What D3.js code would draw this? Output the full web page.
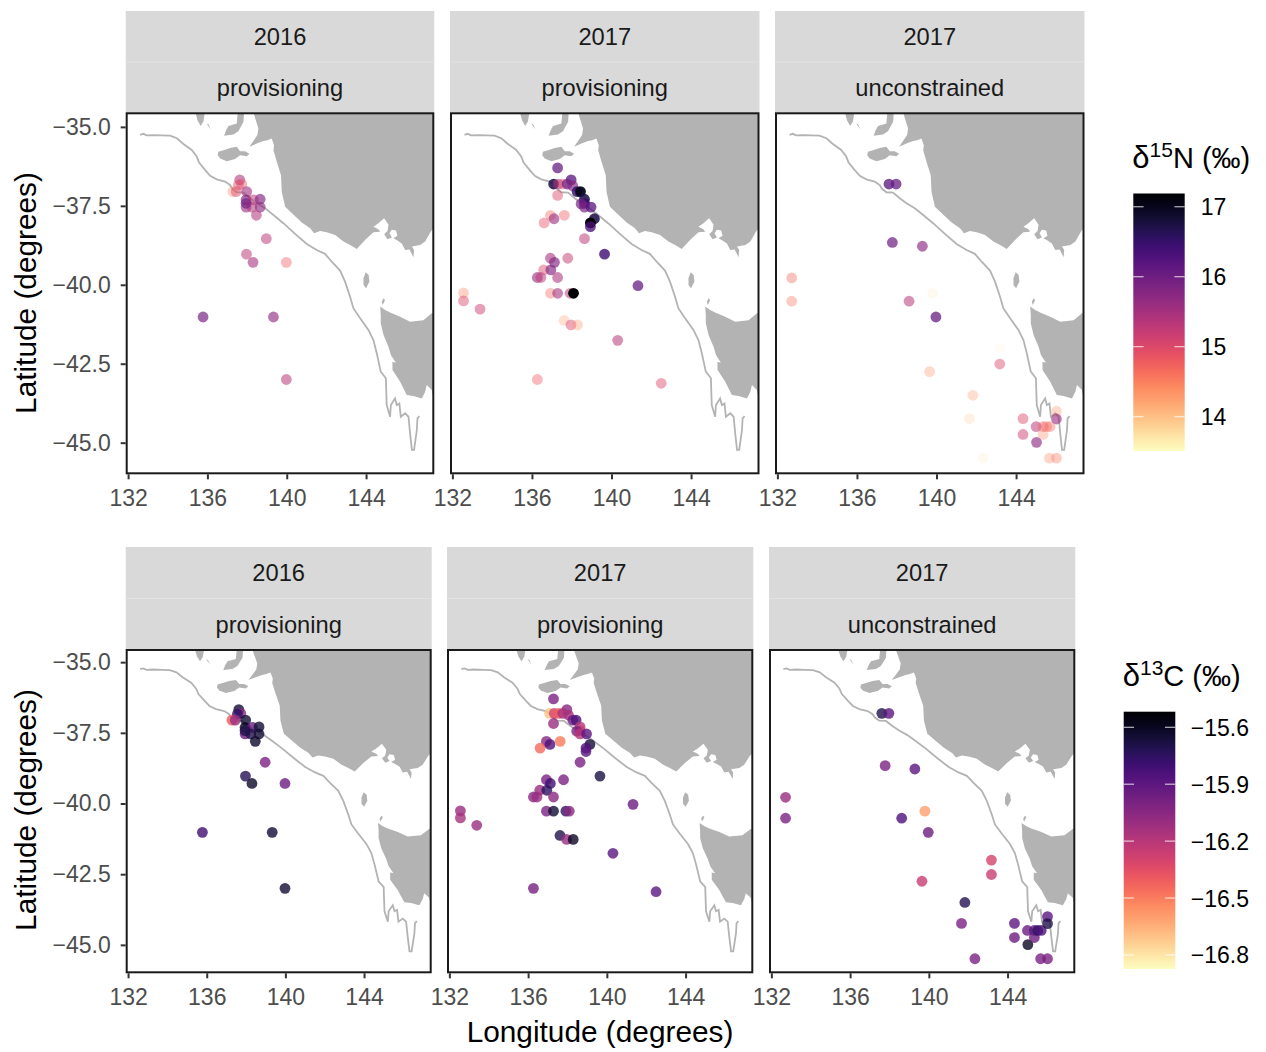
<!DOCTYPE html>
<html>
<head>
<meta charset="utf-8">
<title>Isotope values by foraging location</title>
<script src="https://d3js.org/d3.v7.min.js"></script>
<style>
body { margin: 0; background: #fff; }
svg { display: block; font-family: "Liberation Sans", Arial, sans-serif; }
.axis path { display: none; }
.axis line { stroke: #333; stroke-width: 2px; }
.axis text { fill: #4d4d4d; font-size: 23px; font-family: "Liberation Sans", Arial, sans-serif; }
.strip { fill: #d9d9d9; }
.striptext { font-size: 23.7px; fill: #1a1a1a; text-anchor: middle; }
.title { font-size: 29.8px; fill: #000; }
.legtick { font-size: 23px; fill: #000; }
</style>
</head>
<body>
<div id="chart"></div>
<script>
// facets
const years = ["2016", "2017", "2017"];
const stages = ["provisioning", "provisioning", "unconstrained"];
const xTicks = [132, 136, 140, 144];
const yTicks = [-35, -37.5, -40, -42.5, -45];
const n15Ticks = [14, 15, 16, 17];
const c13Ticks = [-16.8, -16.5, -16.2, -15.9, -15.6];

// 2016 provisioning
const lon16 = [135.78, 139.33, 139.98, 139.98, 138.30, 137.97, 138.97, 137.63, 137.73, 137.56, 137.28, 137.45, 137.98, 137.95, 138.32, 138.66, 137.95, 138.24, 138.66, 137.95, 138.47];
const lat16 = [-41.02, -41.02, -43.0, -39.29, -39.29, -39.03, -38.54, -36.68, -36.81, -36.84, -37.05, -37.05, -37.05, -37.31, -37.31, -37.29, -37.54, -37.54, -37.54, -37.42, -37.80];
const n15_16 = [15.9, 15.7, 15.35, 14.8, 15.5, 15.3, 15.3, 15.45, 14.9, 15.0, 14.5, 15.0, 15.55, 15.8, 15.3, 15.8, 15.6, 15.4, 15.7, 15.9, 15.4];
const c13_16 = [-15.8, -15.65, -15.65, -15.95, -15.62, -15.72, -16.0, -15.65, -16.05, -15.75, -16.4, -16.1, -15.65, -15.6, -15.95, -15.65, -15.95, -15.7, -15.65, -15.7, -15.62];

// 2017 provisioning
const lon17p = [137.29, 137.97, 137.09, 137.33, 137.55, 137.77, 138.05, 138.27, 138.44, 138.64, 138.64, 138.47, 138.64, 138.97, 139.14, 138.94, 138.94, 138.64, 139.65, 137.29, 136.93, 137.63, 136.61, 137.11, 136.93, 137.13, 137.80, 136.59, 136.95, 136.27, 136.45, 137.29, 136.93, 137.29, 137.92, 138.09, 141.33, 132.56, 132.56, 133.39, 137.62, 137.96, 138.29, 140.31, 136.27, 142.5];
const lat17p = [-36.30, -36.68, -36.81, -36.81, -36.81, -36.81, -36.87, -37.05, -37.05, -37.29, -37.42, -37.44, -37.54, -37.54, -37.91, -38.04, -38.16, -38.54, -39.03, -37.17, -37.80, -37.80, -38.04, -37.91, -39.16, -39.29, -39.16, -39.53, -39.53, -39.77, -39.77, -39.77, -40.27, -40.27, -40.27, -40.27, -40.03, -40.26, -40.51, -40.77, -41.13, -41.27, -41.27, -41.76, -43.0, -43.12];
const n15_17p = [16.1, 16.2, 16.7, 15.4, 15.0, 16.0, 15.8, 16.5, 17.0, 16.7, 16.5, 15.9, 15.9, 16.2, 16.7, 17.2, 16.3, 15.3, 16.4, 15.0, 14.7, 14.8, 14.9, 15.6, 15.5, 15.8, 15.2, 15.0, 15.8, 15.6, 15.3, 15.45, 14.7, 15.5, 15.3, 17.3, 16.1, 14.5, 15.0, 15.15, 14.3, 15.0, 14.4, 15.35, 14.8, 15.0];
const c13_17p = [-16.0, -16.05, -16.7, -16.3, -16.4, -16.15, -16.15, -15.95, -15.85, -16.2, -16.25, -16.0, -16.2, -15.9, -15.65, -15.85, -15.9, -16.0, -15.68, -16.1, -16.05, -16.5, -16.45, -15.85, -16.0, -15.8, -16.0, -16.1, -15.75, -16.05, -16.1, -16.05, -16.0, -15.65, -15.75, -16.05, -15.95, -16.1, -16.15, -16.1, -15.7, -16.1, -15.6, -15.9, -15.98, -15.9];

// 2017 unconstrained
const lon17u = [137.61, 137.97, 137.78, 139.29, 132.72, 132.72, 138.62, 139.80, 139.97, 143.18, 143.18, 139.65, 141.83, 141.66, 144.35, 144.35, 145.01, 145.03, 145.36, 145.36, 145.53, 145.71, 146.03, 146.03, 142.34, 145.68, 146.03];
const lat17u = [-36.81, -36.81, -38.66, -38.78, -39.78, -40.52, -40.52, -40.27, -41.02, -42.0, -42.51, -42.75, -43.50, -44.24, -44.24, -44.74, -44.49, -44.99, -44.49, -44.74, -44.49, -44.49, -44.0, -44.25, -45.49, -45.49, -45.49];
const n15_17u = [16.2, 16.1, 16.0, 15.75, 14.7, 14.6, 15.35, 13.75, 16.1, 13.6, 15.0, 14.4, 14.35, 14.0, 15.0, 15.15, 15.3, 15.7, 14.8, 14.45, 14.7, 14.7, 14.4, 15.6, 13.75, 14.45, 14.6];
const c13_17u = [-15.7, -15.9, -16.0, -15.9, -16.1, -16.0, -15.85, -16.6, -15.95, -16.3, -16.25, -16.25, -15.72, -16.0, -15.9, -15.95, -15.95, -15.6, -15.9, -15.95, -15.75, -15.85, -15.9, -15.7, -16.0, -16.0, -16.0];

// map outlines as [lon, lat]
const mainland = [[138.35,-34.3],[138.35,-34.61],[138.57,-35.05],[138.52,-35.26],[138.12,-35.63],[138.49,-35.53],[138.82,-35.45],[139.03,-35.42],[139.24,-35.37],[139.36,-35.58],[139.33,-35.74],[139.50,-36.11],[139.71,-36.53],[139.75,-37.06],[139.92,-37.53],[140.25,-37.73],[140.76,-38.03],[141.18,-38.21],[141.38,-38.37],[141.68,-38.30],[142.02,-38.34],[142.44,-38.42],[142.86,-38.63],[143.20,-38.74],[143.53,-38.87],[143.95,-38.58],[144.37,-38.34],[144.71,-38.32],[144.62,-38.24],[144.37,-38.16],[144.62,-38.05],[144.91,-37.89],[145.13,-38.10],[145.08,-38.30],[144.91,-38.40],[145.08,-38.56],[145.30,-38.50],[145.18,-38.37],[145.30,-38.26],[145.51,-38.28],[145.58,-38.45],[145.38,-38.53],[145.58,-38.60],[145.80,-38.69],[145.97,-38.90],[146.19,-38.88],[146.39,-39.13],[146.42,-38.90],[146.31,-38.79],[146.73,-38.74],[146.98,-38.63],[147.26,-38.32],[147.40,-38.21],[147.8,-38.0],[147.8,-34.3]];
const yorke = [[137.56,-34.3],[137.48,-34.89],[137.06,-34.97],[136.94,-35.11],[136.84,-35.28],[137.31,-35.24],[137.56,-35.14],[137.82,-34.84],[137.87,-34.3]];
const eyre = [[135.29,-34.3],[135.50,-34.79],[135.66,-34.97],[135.80,-34.82],[135.93,-34.3]];
const eyreSpeck = [[135.97,-34.90],[136.17,-35.08],[136.06,-34.92]];
const kangaroo = [[136.55,-35.79],[136.81,-35.74],[137.14,-35.67],[137.48,-35.63],[137.65,-35.77],[137.90,-35.77],[138.12,-35.85],[137.98,-35.93],[137.65,-35.90],[137.40,-36.02],[136.98,-36.09],[136.64,-36.00],[136.52,-35.90]];
const kingIsland = [[143.98,-39.60],[144.13,-39.69],[144.17,-39.90],[144.00,-40.11],[143.87,-40.01],[143.87,-39.79]];
const hunterIsland = [[144.88,-40.43],[144.79,-40.54],[144.84,-40.64],[144.96,-40.48]];
const tasmania = [[144.71,-40.69],[144.74,-40.96],[144.74,-41.22],[144.88,-41.59],[145.13,-41.96],[145.25,-42.22],[145.50,-42.47],[145.33,-42.44],[145.33,-42.70],[145.72,-43.07],[145.88,-43.28],[146.05,-43.49],[146.39,-43.52],[146.81,-43.60],[146.98,-43.39],[147.06,-43.17],[147.31,-43.33],[147.36,-43.49],[147.73,-43.49],[147.73,-40.85],[147.31,-40.90],[146.89,-41.12],[146.22,-41.17],[145.72,-41.01],[145.21,-40.88],[144.96,-40.80]];
const shelf = [[132.61,-35.25],[132.77,-35.22],[132.94,-35.27],[133.28,-35.26],[133.70,-35.27],[134.12,-35.28],[134.46,-35.36],[134.79,-35.54],[135.21,-35.73],[135.46,-35.94],[135.58,-36.13],[135.88,-36.36],[136.14,-36.55],[136.47,-36.66],[136.89,-36.73],[137.14,-36.84],[137.26,-36.96],[137.48,-37.07],[137.82,-37.08],[138.15,-37.26],[138.49,-37.42],[138.91,-37.58],[139.33,-37.79],[139.83,-38.05],[140.42,-38.39],[141.01,-38.71],[141.51,-38.90],[141.93,-39.02],[142.27,-39.27],[142.69,-39.55],[142.94,-39.90],[143.19,-40.37],[143.36,-40.74],[143.70,-41.06],[144.12,-41.43],[144.37,-41.75],[144.54,-42.17],[144.74,-42.75],[145.0,-42.96],[145.01,-43.23],[145.04,-43.81],[145.21,-44.18],[145.25,-43.81],[145.46,-43.60],[145.55,-43.81],[145.68,-43.76],[145.75,-44.18],[145.97,-44.07],[146.14,-44.18],[146.22,-44.71],[146.31,-45.23],[146.42,-45.23],[146.56,-44.60],[146.59,-44.23],[146.69,-44.16]];

const width = 1266, height = 1052;
const lonDomain = [131.93, 147.39];
const latDomain = [-34.57, -45.97];
const landGrey = "#b3b3b3";

const panelData = [
    { lon: lon16, lat: lat16, n15: n15_16, c13: c13_16 },
    { lon: lon17p, lat: lat17p, n15: n15_17p, c13: c13_17p },
    { lon: lon17u, lat: lat17u, n15: n15_17u, c13: c13_17u }
];

const svg = d3.select("#chart").append("svg")
    .attr("width", width)
    .attr("height", height);

const defs = svg.append("defs");

function magmaRev(domain) {
    const t = d3.scaleLinear().domain(domain).range([1, 0]);
    return v => d3.interpolateMagma(Math.max(0, Math.min(1, t(v))));
}

function drawRow(row) {
    const color = magmaRev(row.domain);
    row.panels.forEach(function(p, i) {
        const x = d3.scaleLinear().domain(lonDomain).range([p[0], p[1]]);
        const y = d3.scaleLinear().domain(latDomain).range([row.top, row.bottom]);

        // strips
        [0, 1].forEach(function(k) {
            const y0 = row.stripTop + k * row.stripH;
            svg.append("rect").attr("class", "strip")
                .attr("x", p[0] - 1).attr("y", y0)
                .attr("width", p[1] - p[0] + 2).attr("height", row.stripH);
            svg.append("text").attr("class", "striptext")
                .attr("x", (p[0] + p[1]) / 2)
                .attr("y", y0 + row.stripH / 2 + 8.5)
                .text(k == 0 ? years[i] : stages[i]);
        });
        svg.append("line")
            .attr("x1", p[0] - 1).attr("x2", p[1] + 1)
            .attr("y1", row.stripTop + row.stripH).attr("y2", row.stripTop + row.stripH)
            .attr("stroke", "#e2e2e2").attr("stroke-width", 1);

        const clipId = "clip" + row.key + i;
        defs.append("clipPath").attr("id", clipId)
            .append("rect")
            .attr("x", p[0]).attr("y", row.top)
            .attr("width", p[1] - p[0]).attr("height", row.bottom - row.top);

        const g = svg.append("g").attr("clip-path", "url(#" + clipId + ")");

        const line = d3.line().x(d => x(d[0])).y(d => y(d[1]));

        [mainland, yorke, eyre, eyreSpeck, kangaroo, kingIsland, hunterIsland, tasmania].forEach(function(land) {
            g.append("path")
                .attr("d", line(land) + "Z")
                .attr("fill", landGrey);
        });
        g.append("path")
            .attr("d", line(shelf))
            .attr("fill", "none")
            .attr("stroke", landGrey)
            .attr("stroke-width", 1.8);

        const d = panelData[i];
        g.selectAll("circle")
            .data(d.lon)
            .enter().append("circle")
            .attr("cx", (v) => x(v))
            .attr("cy", (v, j) => y(d.lat[j]))
            .attr("r", 5.4)
            .attr("fill", (v, j) => color(d[row.key][j]))
            .attr("fill-opacity", (v, j) => row.alpha(d[row.key][j]));

        // panel border
        svg.append("rect")
            .attr("x", p[0]).attr("y", row.top)
            .attr("width", p[1] - p[0]).attr("height", row.bottom - row.top)
            .attr("fill", "none")
            .attr("stroke", "#1a1a1a")
            .attr("stroke-width", 2);

        svg.append("g").attr("class", "axis")
            .attr("transform", "translate(0," + (row.bottom + 1) + ")")
            .call(d3.axisBottom(x).tickValues(xTicks).tickSize(5).tickPadding(10).tickFormat(d3.format("d")));

        if (i == 0) {
            svg.append("g").attr("class", "axis")
                .attr("transform", "translate(" + (p[0] - 1) + ",0)")
                .call(d3.axisLeft(y).tickValues(yTicks).tickSize(5).tickPadding(10)
                    .tickFormat(v => d3.format(".1f")(v).replace("-", "\u2212")));
        }
    });

    // y title
    svg.append("text").attr("class", "title")
        .attr("text-anchor", "middle")
        .attr("transform", "translate(" + 36 + "," + row.yTitleY + ") rotate(-90)")
        .text("Latitude (degrees)");

    // colour bar
    const barScale = d3.scaleLinear().domain(row.domain).range([row.barBottom, row.barTop]);
    const gradId = "grad" + row.key;
    const grad = defs.append("linearGradient").attr("id", gradId)
        .attr("x1", 0).attr("x2", 0).attr("y1", 1).attr("y2", 0);
    d3.range(0, 1.0001, 0.05).forEach(function(t) {
        grad.append("stop")
            .attr("offset", t)
            .attr("stop-color", d3.interpolateMagma(1 - t));
    });
    svg.append("rect")
        .attr("x", row.barX).attr("y", row.barTop)
        .attr("width", row.barW).attr("height", row.barBottom - row.barTop)
        .attr("fill", "url(#" + gradId + ")");
    row.ticks.forEach(function(v) {
        [0, row.barW * 0.8].forEach(function(dx) {
            svg.append("line")
                .attr("x1", row.barX + dx).attr("x2", row.barX + dx + row.barW * 0.2)
                .attr("y1", barScale(v)).attr("y2", barScale(v))
                .attr("stroke", "#fff").attr("stroke-opacity", 0.85).attr("stroke-width", 1);
        });
        svg.append("text").attr("class", "legtick")
            .attr("x", row.barX + row.barW + row.labelGap)
            .attr("y", barScale(v) + 8.5)
            .text(row.fmt(v));
    });

    // legend title, the superscript is a smaller tspan
    const t = svg.append("text")
        .attr("x", row.barX - 1).attr("y", row.legTitleY)
        .attr("font-size", 29).attr("fill", "#000");
    t.append("tspan").attr("font-size", 31).text("\u03b4");
    t.append("tspan").attr("dy", -11).attr("font-size", 21).text(row.iso);
    t.append("tspan").attr("dy", 11).text(row.el + " (\u2030)");
}

drawRow({
    key: "n15", iso: "15", el: "N",
    panels: [[126.7, 433.3], [451, 758.5], [776, 1083.5]],
    top: 113.3, bottom: 473.3, stripTop: 11, stripH: 51,
    domain: [13.51, 17.19], ticks: n15Ticks, fmt: d3.format("d"),
    alpha: d3.scaleLinear().domain([13.51, 17.19]).range([0.1, 1]),
    barX: 1133.3, barW: 51.4, barTop: 193.5, barBottom: 451, labelGap: 16,
    legTitleY: 168, yTitleY: 293
});

drawRow({
    key: "c13", iso: "13", el: "C",
    panels: [[126.7, 430.7], [448, 752.3], [770, 1074.3]],
    top: 650, bottom: 972.3, stripTop: 547, stripH: 51.5,
    domain: [-16.874, -15.518], ticks: c13Ticks, fmt: v => d3.format(".1f")(v).replace("-", "\u2212"),
    alpha: () => 0.8,
    barX: 1123.7, barW: 51.6, barTop: 711.7, barBottom: 969, labelGap: 15.5,
    legTitleY: 686, yTitleY: 810
});

svg.append("text").attr("class", "title")
    .attr("text-anchor", "middle")
    .attr("x", 600).attr("y", 1042)
    .text("Longitude (degrees)");
</script>
</body>
</html>
